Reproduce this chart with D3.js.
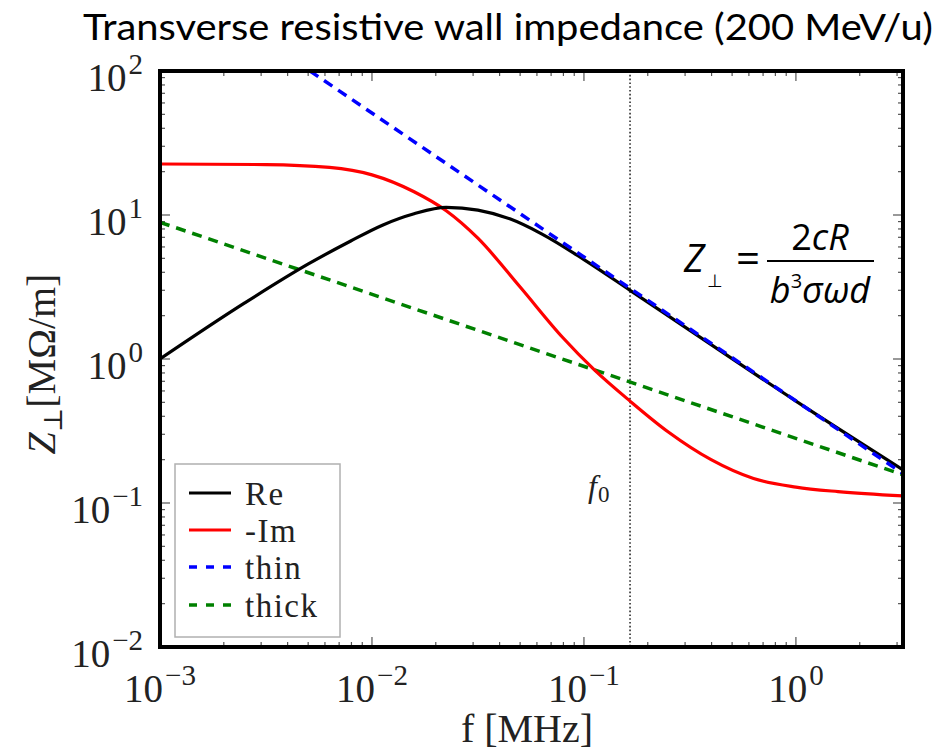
<!DOCTYPE html>
<html>
<head>
<meta charset="utf-8">
<script src="https://cdn.jsdelivr.net/npm/d3@7"></script>
<style>
  html, body { margin: 0; padding: 0; background: #fff; }
  svg { display: block; }
</style>
</head>
<body>
<svg id="chart" width="937" height="755"></svg>
<script>
// Frequencies in MHz, impedances in MΩ/m
const reF  = [0.001, 0.00251, 0.00501, 0.00794, 0.0112, 0.0158, 0.0224, 0.0316, 0.0447, 0.0631, 0.1, 0.165, 0.316, 1.0, 3.2];
const reZ  = [1.0, 2.45, 4.57, 6.6, 8.5, 10.2, 11.3, 10.8, 9.4, 7.4, 4.9, 3.0, 1.58, 0.51, 0.17];
const imF  = [0.001, 0.00316, 0.0063, 0.01, 0.0158, 0.0224, 0.0316, 0.05, 0.0794, 0.112, 0.165, 0.251, 0.398, 0.631, 1.0, 1.58, 3.2];
const imZ  = [22.6, 22.4, 21.4, 19.0, 14.5, 10.7, 6.9, 3.16, 1.41, 0.84, 0.51, 0.31, 0.2, 0.148, 0.129, 0.12, 0.112];
const thinF  = [0.0051, 3.2];
const thinZ  = [100, 0.16];
const thickF = [0.001, 3.2];
const thickZ = [8.9, 0.157];
const f0 = 0.165;

const xTicks = [1e-3, 1e-2, 1e-1, 1e0];
const xTickExp = ["\u22123", "\u22122", "\u22121", "0"];
const yTicks = [1e-2, 1e-1, 1e0, 1e1, 1e2];
const yTickExp = ["\u22122", "\u22121", "0", "1", "2"];

const series = [
  { name: "Re",    f: reF,    z: reZ,    color: "#000000", dash: null },
  { name: "-Im",   f: imF,    z: imZ,    color: "#ff0000", dash: null },
  { name: "thin",  f: thinF,  z: thinZ,  color: "#0000ff", dash: "10,7" },
  { name: "thick", f: thickF, z: thickZ, color: "#008000", dash: "10,7" }
];

const svg = d3.select("#chart");
const L = 160, R = 903, T = 71, B = 647;

const x = d3.scaleLog().domain([1e-3, 3.2]).range([L, R]);
const y = d3.scaleLog().domain([1e-2, 1e2]).range([B, T]);

const serif = "'Liberation Serif', 'DejaVu Serif', serif";

// Title
svg.append("text")
  .attr("x", 83).attr("y", 40)
  .attr("font-family", "Lato, 'Open Sans', sans-serif")
  .attr("font-size", 36)
  .attr("textLength", 850)
  .attr("lengthAdjust", "spacingAndGlyphs")
  .attr("fill", "#000")
  .text("Transverse resistive wall impedance (200 MeV/u)");

// Clip for the curves
svg.append("defs").append("clipPath").attr("id", "plotclip")
  .append("rect").attr("x", L).attr("y", T).attr("width", R - L).attr("height", B - T);

// Minor and major ticks, drawn inward on all four sides
const tickG = svg.append("g").attr("stroke", "#555").attr("stroke-width", 1.2);
function minorValues(lo, hi) {
  const out = [];
  for (let e = Math.floor(Math.log10(lo)); e <= Math.ceil(Math.log10(hi)); e++) {
    for (let m = 1; m <= 9; m++) {
      const v = m * Math.pow(10, e);
      if (v >= lo * 0.999 && v <= hi * 1.001) out.push({ v, major: m === 1 });
    }
  }
  return out;
}
minorValues(1e-3, 3.2).forEach(d => {
  const len = d.major ? 10 : 5;
  const px = x(d.v);
  tickG.append("line").attr("x1", px).attr("x2", px).attr("y1", B).attr("y2", B - len);
  tickG.append("line").attr("x1", px).attr("x2", px).attr("y1", T).attr("y2", T + len);
});
minorValues(1e-2, 1e2).forEach(d => {
  const len = d.major ? 10 : 5;
  const py = y(d.v);
  tickG.append("line").attr("x1", L).attr("x2", L + len).attr("y1", py).attr("y2", py);
  tickG.append("line").attr("x1", R).attr("x2", R - len).attr("y1", py).attr("y2", py);
});

// f0 marker line
svg.append("line")
  .attr("x1", x(f0)).attr("x2", x(f0)).attr("y1", T).attr("y2", B)
  .attr("stroke", "#444").attr("stroke-width", 1.8)
  .attr("stroke-dasharray", "1.6,2.2");
const f0Label = svg.append("text")
  .attr("x", x(f0) - 42).attr("y", 497)
  .attr("font-family", serif).attr("font-size", 32).attr("fill", "#222");
f0Label.append("tspan").attr("font-style", "italic").text("f");
f0Label.append("tspan").attr("font-size", 23).attr("dy", 5).attr("dx", 1).text("0");

// Curves
const line = d3.line().x(d => x(d[0])).y(d => y(d[1])).curve(d3.curveMonotoneX);
const curveG = svg.append("g").attr("clip-path", "url(#plotclip)");
const order = [series[3], series[1], series[0], series[2]];
order.forEach(s => {
  curveG.append("path")
    .attr("d", line(s.f.map((f, i) => [f, s.z[i]])))
    .attr("fill", "none")
    .attr("stroke", s.color)
    .attr("stroke-width", s.dash ? 3.5 : 3.2)
    .attr("stroke-dasharray", s.dash)
    .attr("stroke-linecap", "butt");
});

// Axes frame
svg.append("rect")
  .attr("x", L).attr("y", T).attr("width", R - L).attr("height", B - T)
  .attr("fill", "none").attr("stroke", "#000").attr("stroke-width", 4);

// Tick labels
xTicks.forEach((v, i) => {
  const t = svg.append("text")
    .attr("x", x(v)).attr("y", 702)
    .attr("text-anchor", "middle")
    .attr("font-family", serif).attr("font-size", 39).attr("fill", "#222");
  t.append("tspan").text("10");
  t.append("tspan").attr("font-size", 29).attr("dy", -17).attr("dx", 2).text(xTickExp[i]);
});
yTicks.forEach((v, i) => {
  const t = svg.append("text")
    .attr("x", 143).attr("y", y(v) + 20)
    .attr("text-anchor", "end")
    .attr("font-family", serif).attr("font-size", 39).attr("fill", "#222");
  t.append("tspan").text("10");
  t.append("tspan").attr("font-size", 29).attr("dy", -17).attr("dx", 2).text(yTickExp[i]);
});

// Axis titles
svg.append("text")
  .attr("x", 527).attr("y", 742)
  .attr("text-anchor", "middle")
  .attr("font-family", serif).attr("font-size", 40).attr("fill", "#222")
  .text("f [MHz]");
const yl = svg.append("text")
  .attr("transform", "translate(55,364) rotate(-90)")
  .attr("text-anchor", "middle")
  .attr("font-family", serif).attr("font-size", 40).attr("fill", "#222");
yl.append("tspan").attr("font-style", "italic").text("Z");
yl.append("tspan").attr("font-size", 26).attr("dy", 7).text("\u22A5");
yl.append("tspan").attr("dy", -7).text("[M\u03A9/m]");

// Formula
const fs = "'Open Sans', Lato, sans-serif";
svg.append("text").attr("x", 684).attr("y", 272)
  .attr("font-family", fs).attr("font-style", "italic").attr("font-size", 38).text("Z");
svg.append("text").attr("x", 707).attr("y", 287)
  .attr("font-family", fs).attr("font-size", 18).text("\u22A5");
svg.append("text").attr("x", 736).attr("y", 273)
  .attr("font-family", fs).attr("font-size", 42).text("=");
svg.append("line").attr("x1", 767).attr("x2", 874).attr("y1", 261).attr("y2", 261)
  .attr("stroke", "#000").attr("stroke-width", 2);
const num = svg.append("text").attr("x", 820).attr("y", 250).attr("text-anchor", "middle")
  .attr("font-family", fs).attr("font-size", 36);
num.append("tspan").text("2");
num.append("tspan").attr("font-style", "italic").text("cR");
const den = svg.append("text").attr("x", 820).attr("y", 303).attr("text-anchor", "middle")
  .attr("font-family", fs).attr("font-size", 36);
den.append("tspan").attr("font-style", "italic").text("b");
den.append("tspan").attr("font-size", 20).attr("dy", -15).text("3");
den.append("tspan").attr("font-style", "italic").attr("dy", 15).text("\u03C3\u03C9d");

// Legend
const lg = svg.append("g");
lg.append("rect").attr("x", 175).attr("y", 464).attr("width", 165).attr("height", 173)
  .attr("fill", "#fff").attr("stroke", "#b0b0b0").attr("stroke-width", 1.5);
const legY = [493, 530, 567, 605];
series.forEach((s, i) => {
  lg.append("line")
    .attr("x1", 189).attr("x2", 231).attr("y1", legY[i]).attr("y2", legY[i])
    .attr("stroke", s.color).attr("stroke-width", s.dash ? 3.5 : 3.2)
    .attr("stroke-dasharray", s.dash ? "8,9" : null);
  lg.append("text")
    .attr("x", 245).attr("y", legY[i] + 12)
    .attr("font-family", serif).attr("font-size", 33).attr("fill", "#222")
    .attr("letter-spacing", 1.5)
    .text(s.name);
});
</script>
</body>
</html>
